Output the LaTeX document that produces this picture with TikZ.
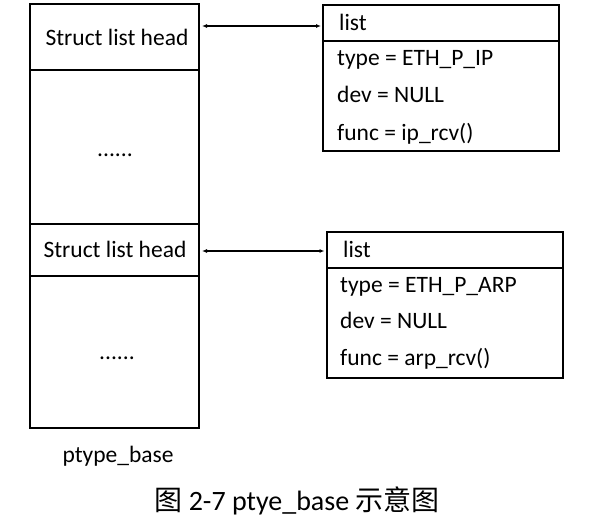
\documentclass[tikz,border=0pt]{standalone}
\usepackage{fontspec}
\setmainfont{Carlito}
\newfontfamily\cjk{Noto Sans CJK SC}
\usetikzlibrary{arrows.meta}
\tikzset{
  cell/.style={draw, line width=2pt, minimum width=169pt, inner sep=0pt},
  rec/.style={draw, line width=2pt, minimum width=236pt, inner sep=0pt},
  fld/.style={anchor=base west, inner sep=0pt},
  link/.style={{Latex[length=5pt,width=4pt]}-{Latex[length=5pt,width=4pt]}, line width=1.3pt}
}
\begin{document}
\begin{tikzpicture}[x=1pt,y=-1pt,font=\fontsize{23.5}{27}\selectfont]
  \useasboundingbox (0,0) rectangle (594,518);
  \draw
    (114.5,37) node[cell, minimum height=66pt] (head1){}
    (114.5,147) node[cell, minimum height=154pt] (gap1){}
    (114.5,250) node[cell, minimum height=52pt] (head2){}
    (114.5,352) node[cell, minimum height=152pt] (gap2){}
    (117,46) node[anchor=base, inner sep=0pt] (text1){Struct list head}
    (115,258) node[anchor=base, inner sep=0pt] (text2){Struct list head}
    (115,155) node[inner sep=0pt] (dots1){......}
    (117,358) node[inner sep=0pt] (dots2){......}
    (118,462) node[anchor=base, inner sep=0pt] (base){ptype\_base};
  \draw
    (441,23) node[rec, minimum height=36pt] (lhd1){}
    (441,96) node[rec, minimum height=110pt] (body1){}
    (339,31) node[fld] (name1){list}
    (337,66) node[fld] (type1){type = ETH\_P\_IP}
    (337,103) node[fld] (dev1){dev = NULL}
    (337,141) node[fld] (func1){func = ip\_rcv()};
  \draw
    (444.5,250) node[rec, minimum height=36pt] (lhd2){}
    (444.5,323) node[rec, minimum height=110pt] (body2){}
    (343,258) node[fld] (name2){list}
    (340,293) node[fld] (type2){type = ETH\_P\_ARP}
    (340,329) node[fld] (dev2){dev = NULL}
    (340,366) node[fld] (func2){func = arp\_rcv()};
  \node[font=\fontsize{28}{32}\selectfont, anchor=base, inner sep=0pt] (cap) at (297,510)
    {{\cjk 图} 2-7 ptye\_base {\cjk 示意图}};
  \begin{scope}[link]
    \draw ([xshift=2pt]head1.east |- 0,26) to ([xshift=-1pt]lhd1.west |- 0,26);
    \draw ([xshift=2pt]head2.east |- 0,251) to ([xshift=-1pt]lhd2.west |- 0,251);
  \end{scope}
\end{tikzpicture}
\end{document}
